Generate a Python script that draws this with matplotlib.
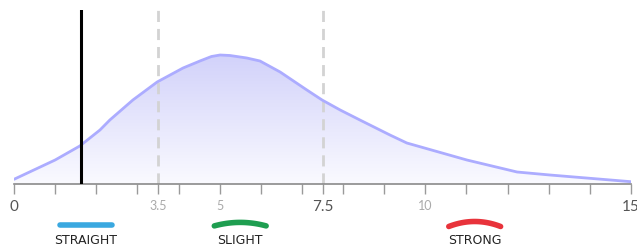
import numpy as np
import matplotlib.pyplot as plt
from matplotlib.colors import LinearSegmentedColormap

# распределение
curve_x = [0, 1.0, 1.6, 2.09, 2.33, 2.89, 3.48, 4.11, 4.52, 4.8, 5.01, 5.25,
           5.66, 5.98, 6.47, 7.12, 7.49, 7.93, 8.41, 9.14, 9.55, 11.01,
           12.23, 13.03, 14.0, 15.0]
curve_y = [4.7, 24, 38, 54, 64, 84, 102, 116, 123, 127.5, 129, 128.5,
           126, 123, 112, 94, 84, 74, 64, 49, 41, 24,
           12, 9, 5.7, 2.3]

marker_x = 1.63          # чёрная линия
dashed_x = [3.5, 7.5]    # пунктир

tick_pos = list(range(0, 16)) + [3.5, 7.5]
tick_labels = {0: '0', 3.5: '3.5', 5: '5', 7.5: '7.5', 10: '10', 15: '15'}
major_labels = [0, 7.5, 15]

legend_labels = ['STRAIGHT', 'SLIGHT', 'STRONG']
legend_colors = ['#3aa8e0', '#1e9e50', '#e8333b']
legend_x = [1.75, 5.5, 11.2]
legend_bend = [0.0, 3.5, 5.0]

W, H = 637, 246
fig = plt.figure(figsize=(W / 100, H / 100), dpi=100)
ax = fig.add_axes([14 / W, 62 / H, 617 / W, 174 / H])
ax.set_xlim(0, 15)
ax.set_ylim(0, 174)

# градиентная заливка под кривой
cmap = LinearSegmentedColormap.from_list('g', ['#fafaff', '#d2d2fa'])
grad = np.linspace(0, 1, 256).reshape(-1, 1)
img = ax.imshow(grad, cmap=cmap, origin='lower', aspect='auto',
                extent=[0, 15, 0, max(curve_y)], zorder=1)
poly = ax.fill_between(curve_x, curve_y, 0, color='none')
clip = poly.get_paths()[0]
img.set_clip_path(clip, transform=ax.transData)
ax.plot(curve_x, curve_y, color='#acacff', lw=2.0, zorder=3,
        solid_joinstyle='round', solid_capstyle='round')

for x in dashed_x:
    ax.axvline(x, color='#d3d3d3', lw=2.0, dashes=(4, 2.5), zorder=2)
ax.axvline(marker_x, color='black', lw=2.2, zorder=4)

for s in ['top', 'left', 'right']:
    ax.spines[s].set_visible(False)
ax.spines['bottom'].set_color('#8a8a8a')
ax.spines['bottom'].set_linewidth(1.2)
ax.set_yticks([])
ax.set_xticks(tick_pos)
ax.set_xticklabels([tick_labels.get(t, '') for t in tick_pos])
ax.tick_params(axis='x', length=7.5, width=1, color='#9a9a9a', pad=4)
for t, lab in zip(tick_pos, ax.get_xticklabels()):
    lab.set_family('Lato')
    if t in major_labels:
        lab.set_fontsize(11)
        lab.set_color('#555555')
    else:
        lab.set_fontsize(9)
        lab.set_color('#aaaaaa')

# легенда снизу
lax = fig.add_axes([14 / W, 0, 617 / W, 62 / H])
lax.set_xlim(0, 15)
lax.set_ylim(246, 184)
lax.axis('off')
lax.patch.set_alpha(0)
for lab, col, xc, b in zip(legend_labels, legend_colors, legend_x, legend_bend):
    t = np.linspace(-1, 1, 40)
    xs = xc + t * 0.63
    ys = 224.5 + b * (t ** 2) - b * 0.6
    lax.plot(xs, ys, color=col, lw=4, solid_capstyle='round')
    lax.text(xc, 241, lab, ha='center', va='center', fontsize=9,
             family='DejaVu Sans', color='#222222')

fig.savefig('out.png', dpi=100)
